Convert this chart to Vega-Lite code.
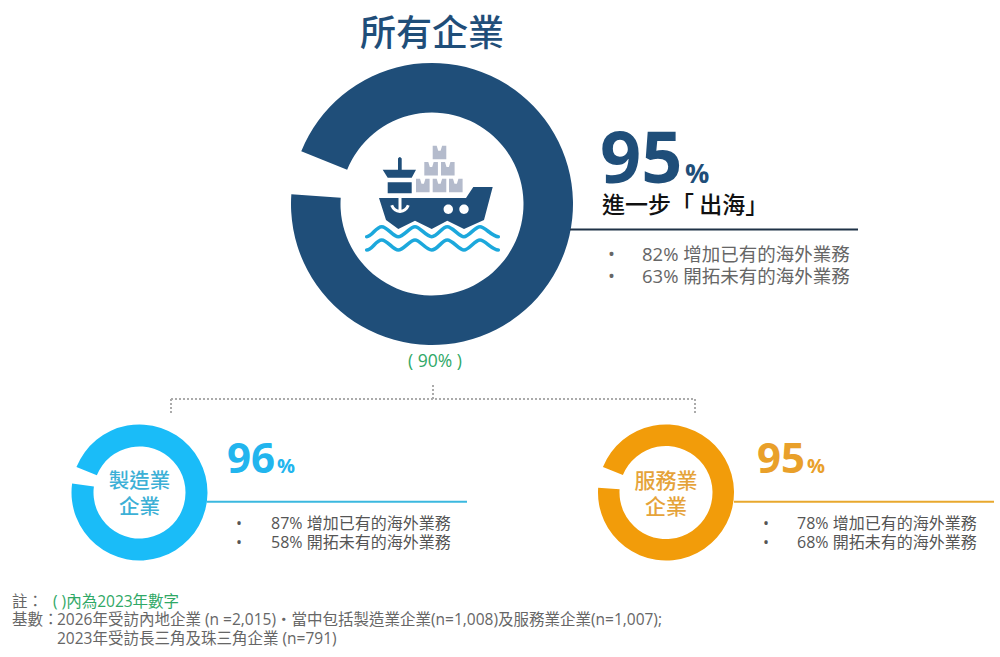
{"$schema":"https://vega.github.io/schema/vega-lite/v6.json","width":1000,"height":657,"padding":0,"autosize":{"type":"fit","contains":"padding"},"background":"white","config":{"view":{"stroke":null},"text":{"font":"'Open Sans','Noto Sans CJK TC'","baseline":"alphabetic","align":"left"}},
"encoding":{
"x":{"field":"col","type":"quantitative","stack":null,"axis":null,"scale":{"domain":[0,1,2,3,4,5,6,7,8,9,10,11,12,13,14,15,16,17,18,19,20,21,22,23,24,25,26,27,28],"range":[12,53,57,139.5,171,207,227,236,271,277,432,433,435,467,570,600,602,608,642,666,685,695,734,757,763,797,807,858,994]}},
"y":{"field":"line","type":"quantitative","stack":null,"axis":null,"scale":{"domain":[0,1,2,3,4,5,6,7,8,9,10,11,12,13,14,15,16,17,18,19,20],"range":[46,182.5,204,213,229.5,261,283,367,385,399,414,473,488,492.5,501.7,514,529,548,607,625,644]}}
},
"layer":[
{"data":{"values":[{"segment":"所有企業","share":95,"col":10,"line":2}]},"mark":{"type":"arc","radius":141,"radius2":91.5,"color":"#1F4E79"},"encoding":{"theta":{"field":"share","type":"quantitative","stack":null,"scale":{"domain":[0,100],"range":[5.096,11.379]}},"theta2":{"datum":0}}},
{"data":{"values":[{"segment":"製造業企業","share":96,"col":3,"line":13}]},"mark":{"type":"arc","radius":68,"radius2":46,"color":"#1ABCF8"},"encoding":{"theta":{"field":"share","type":"quantitative","stack":null,"scale":{"domain":[0,100],"range":[5.096,11.379]}},"theta2":{"datum":0}}},
{"data":{"values":[{"segment":"服務業企業","share":95,"col":19,"line":13}]},"mark":{"type":"arc","radius":68,"radius2":46.5,"color":"#F29C0A"},"encoding":{"theta":{"field":"share","type":"quantitative","stack":null,"scale":{"domain":[0,100],"range":[5.096,11.379]}},"theta2":{"datum":0}}},
{"data":{"values":[{"col":14,"col2":27,"line":4}]},"mark":{"type":"rule","color":"#1F3247","strokeWidth":2},"encoding":{"x2":{"field":"col2"}}},
{"data":{"values":[{"col":5,"col2":13,"line":14}]},"mark":{"type":"rule","color":"#3BB8DF","strokeWidth":2},"encoding":{"x2":{"field":"col2"}}},
{"data":{"values":[{"col":22,"col2":28,"line":14}]},"mark":{"type":"rule","color":"#E8A82E","strokeWidth":2},"encoding":{"x2":{"field":"col2"}}},
{"data":{"values":[{"col":4,"col2":21,"line":9,"line2":9},{"col":4,"col2":4,"line":9,"line2":10},{"col":21,"col2":21,"line":9,"line2":10},{"col":11,"col2":11,"line":8,"line2":9}]},"mark":{"type":"rule","color":"#ABABAB","strokeWidth":2,"strokeDash":[2,2]},"encoding":{"x2":{"field":"col2"},"y2":{"field":"line2"}}},
{"data":{"values":[{"part":"船身","col":10,"line":2}]},"mark":{"type":"point","filled":true,"size":4,"opacity":1,"color":"#1F4E79","shape":"M-53,-6L34,-6L41.3,-17L60.7,-17L52,16L32,25L15.3,16.7L-0.3,25L-17,16.7L-33.7,25L-46,16ZM-44.3,-21.7L-20.3,-21.7L-20.3,-10.7L-44.3,-10.7ZM-49.3,-34.3L-34,-34.3L-34,-45.5Q-32.2,-48.5 -30.3,-45.5L-30.3,-34.3L-16,-34.3L-20.3,-26.3L-44.3,-26.3Z"}},
{"data":{"values":[{"part":"舷窗","col":10,"line":2}]},"mark":{"type":"point","filled":true,"size":4,"opacity":1,"color":"#FFFFFF","shape":"M11.6,5.3A4.7,4.7 0 1 0 21,5.3A4.7,4.7 0 1 0 11.6,5.3ZM27.3,5.3A4.7,4.7 0 1 0 36.7,5.3A4.7,4.7 0 1 0 27.3,5.3Z"}},
{"data":{"values":[{"part":"船錨","col":10,"line":2}]},"mark":{"type":"point","filled":false,"size":4,"opacity":1,"color":"#FFFFFF","strokeWidth":3,"shape":"M-32,-6L-32,6M-40.3,1.3Q-38,7 -32,7.5Q-26,7 -23.7,1.3"}},
{"data":{"values":[{"part":"貨櫃","col":10,"line":2}]},"mark":{"type":"point","filled":true,"size":4,"opacity":1,"color":"#B4BBCC","shape":"M0.7,-58.3h4l1.5,5h2.4l1.5,-5h4.2v13.6h-13.6zM-7.7,-42h4l1.5,5h2.4l1.5,-5h4.2v13.6h-13.6zM9,-42h4l1.5,5h2.4l1.5,-5h4.2v13.6h-13.6zM-16,-25.3h4l1.5,5h2.4l1.5,-5h4.2v13.6h-13.6zM0.7,-25.3h4l1.5,5h2.4l1.5,-5h4.2v13.6h-13.6zM17,-25.3h4l1.5,5h2.4l1.5,-5h4.2v13.6h-13.6z"}},
{"data":{"values":[{"part":"海浪","col":10,"line":2}]},"mark":{"type":"point","filled":false,"size":4,"opacity":1,"color":"#1CA8DC","strokeWidth":3.6,"strokeCap":"round","shape":"M-65.3,32.7C-60,32.7 -56,22.7 -50.3,22.7S-39,32.7 -33.7,32.7S-22,22.7 -17,22.7S-6,32.7 -0.3,32.7S10,22.7 15.3,22.7S27,32.7 32,32.7S43,22.7 48,22.7S60,32.7 66.3,32.7M-65.3,46C-60,46 -56,36 -50.3,36S-39,46 -33.7,46S-22,36 -17,36S-6,46 -0.3,46S10,36 15.3,36S27,46 32,46S43,36 48,36S60,46 66.3,46"}},
{"data":{"values":[{"label":"所有企業","col":10,"line":0}]},"mark":{"type":"text","align":"center","fontSize":36,"fontWeight":500,"font":"Noto Sans CJK TC","color":"#1F4E79"},"encoding":{"text":{"field":"label"}}},
{"data":{"values":[{"label":"95","col":15,"line":1}]},"mark":{"type":"text","fontSize":72,"fontWeight":"bold","color":"#1F4E79"},"encoding":{"text":{"field":"label"}}},
{"data":{"values":[{"label":"%","col":20,"line":1}]},"mark":{"type":"text","fontSize":27,"fontWeight":"bold","color":"#1F4E79"},"encoding":{"text":{"field":"label"}}},
{"data":{"values":[{"label":"進一步「  出海」","col":16,"line":3}]},"mark":{"type":"text","fontSize":23,"fontWeight":500,"font":"Noto Sans CJK TC","color":"#111111"},"encoding":{"text":{"field":"label"}}},
{"data":{"values":[{"label":"•","col":17,"line":5},{"label":"•","col":17,"line":6},{"label":"82% 增加已有的海外業務","col":18,"line":5},{"label":"63% 開拓未有的海外業務","col":18,"line":6}]},"mark":{"type":"text","fontSize":18.5,"color":"#666666"},"encoding":{"text":{"field":"label"}}},
{"data":{"values":[{"label":"( 90% )","col":12,"line":7}]},"mark":{"type":"text","align":"center","fontSize":17.5,"color":"#2FA866"},"encoding":{"text":{"field":"label"}}},
{"data":{"values":[{"label":"96","col":6,"line":11}]},"mark":{"type":"text","fontSize":42,"fontWeight":"bold","color":"#22B5EE"},"encoding":{"text":{"field":"label"}}},
{"data":{"values":[{"label":"%","col":9,"line":11}]},"mark":{"type":"text","fontSize":20,"fontWeight":"bold","color":"#22B5EE"},"encoding":{"text":{"field":"label"}}},
{"data":{"values":[{"label":"95","col":23,"line":11}]},"mark":{"type":"text","fontSize":42,"fontWeight":"bold","color":"#E9A02A"},"encoding":{"text":{"field":"label"}}},
{"data":{"values":[{"label":"%","col":26,"line":11}]},"mark":{"type":"text","fontSize":20,"fontWeight":"bold","color":"#E9A02A"},"encoding":{"text":{"field":"label"}}},
{"data":{"values":[{"label":"製造業","col":3,"line":12},{"label":"企業","col":3,"line":15}]},"mark":{"type":"text","align":"center","fontSize":20.5,"fontWeight":500,"font":"Noto Sans CJK TC","color":"#3CB0D6"},"encoding":{"text":{"field":"label"}}},
{"data":{"values":[{"label":"服務業","col":19,"line":12},{"label":"企業","col":19,"line":15}]},"mark":{"type":"text","align":"center","fontSize":21,"fontWeight":500,"font":"Noto Sans CJK TC","color":"#E5A33A"},"encoding":{"text":{"field":"label"}}},
{"data":{"values":[{"label":"•","col":7,"line":16},{"label":"•","col":7,"line":17},{"label":"87% 增加已有的海外業務","col":8,"line":16},{"label":"58% 開拓未有的海外業務","col":8,"line":17},{"label":"•","col":24,"line":16},{"label":"•","col":24,"line":17},{"label":"78% 增加已有的海外業務","col":25,"line":16},{"label":"68% 開拓未有的海外業務","col":25,"line":17}]},"mark":{"type":"text","fontSize":16,"color":"#555555"},"encoding":{"text":{"field":"label"}}},
{"data":{"values":[{"label":"註：","col":0,"line":18},{"label":"基數：","col":0,"line":19},{"label":"2026年受訪內地企業 (n =2,015)・當中包括製造業企業(n=1,008)及服務業企業(n=1,007);","col":2,"line":19},{"label":"2023年受訪長三角及珠三角企業 (n=791)","col":2,"line":20}]},"mark":{"type":"text","fontSize":15.5,"color":"#666666"},"encoding":{"text":{"field":"label"}}},
{"data":{"values":[{"label":"( )內為2023年數字","col":1,"line":18}]},"mark":{"type":"text","fontSize":15.5,"color":"#2FA866"},"encoding":{"text":{"field":"label"}}}
]}
